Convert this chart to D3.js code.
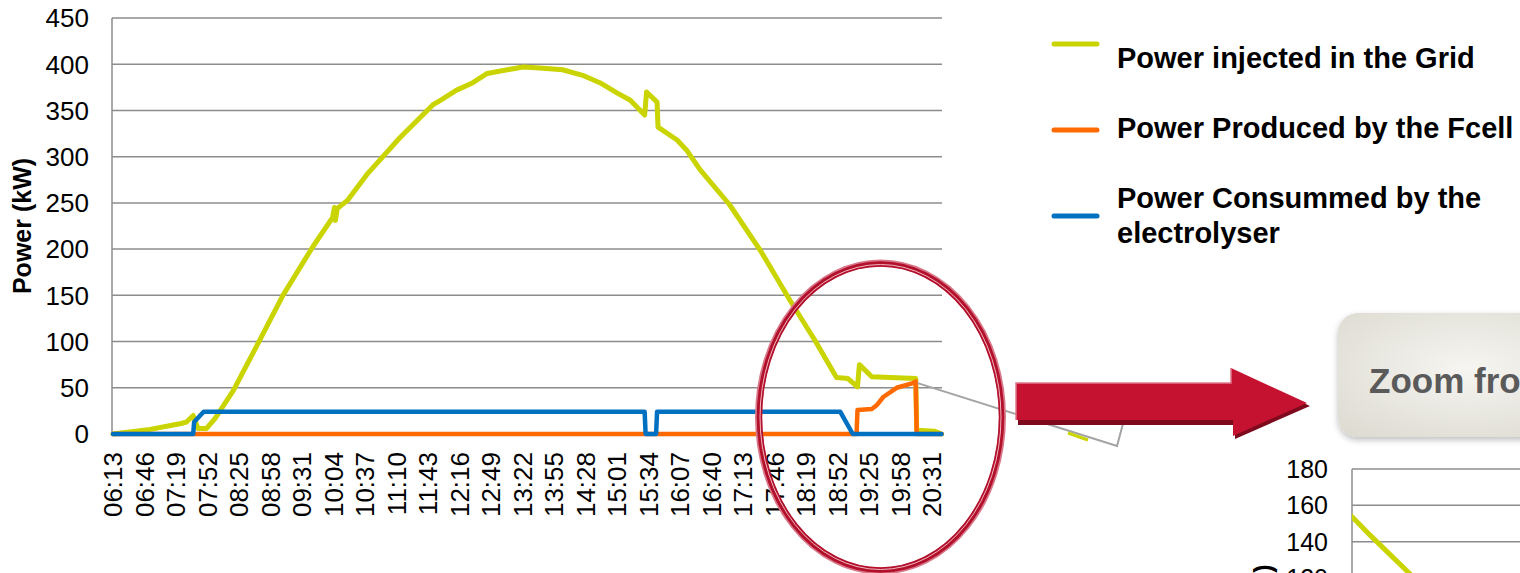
<!DOCTYPE html>
<html>
<head>
<meta charset="utf-8">
<script src="https://cdn.jsdelivr.net/npm/d3@7/dist/d3.min.js"></script>
<style>
  body { margin: 0; background: #fff; }
  svg { display: block; font-family: "Liberation Sans", Arial, sans-serif; }
</style>
</head>
<body>
<div id="chart"></div>
<script>
// 1: DATA
const timeLabels = ["06:13","06:46","07:19","07:52","08:25","08:58","09:31","10:04","10:37",
  "11:10","11:43","12:16","12:49","13:22","13:55","14:28","15:01","15:34","16:07","16:40",
  "17:13","17:46","18:19","18:52","19:25","19:58","20:31"];
const powerTicks = [0, 50, 100, 150, 200, 250, 300, 350, 400, 450];
const zoomTicks = [0, 20, 40, 60, 80, 100, 120, 140, 160, 180];

const gridPower = [
  ["06:13",0],["06:28",2],["06:52",5],["07:23",11],["07:30",13],["07:37",20],["07:42",6],
  ["07:51",6],["08:00",17],["08:19",47],["08:47",102],["09:11",150],["09:42",202],
  ["10:03",234],["10:05",245],["10:06",231],["10:08",244],["10:19",253],["10:40",282],
  ["11:14",321],["11:48",356],["11:56",361],["12:13",372],["12:30",380],["12:45",390],
  ["13:06",394],["13:23",397],["13:40",396],["14:04",394],["14:25",388],["14:43",380],
  ["15:01",369],["15:15",361],["15:30",345],["15:32",370],["15:43",359],["15:44",332],
  ["16:04",318],["16:14",307],["16:28",286],["16:59",248],["17:31",199],["18:02",145],
  ["18:28",102],["18:51",61],["19:03",60],["19:13",51],["19:15",75],["19:28",62],
  ["20:14",60],["20:15",4],["20:34",3],["20:41",0]
];
const fcellPower = [
  ["06:13",0],["19:12",0],["19:13",26],["19:28",27],["19:33",31],["19:40",40],
  ["19:54",50],["20:11",55],["20:14",57],["20:15",0],["20:41",0]
];
const electrolyserPower = [
  ["06:13",0],["07:37",0],["07:38",13],["07:48",24],["15:30",24],["15:31",0],
  ["15:42",0],["15:43",24],["18:55",24],["19:08",0],["20:41",0]
];

const series = [
  { name: "Power injected in the Grid", data: gridPower, color: "#cad400", w: 5 },
  { name: "Power Produced by the Fcell", data: fcellPower, color: "#ff6a00", w: 4.5 },
  { name: "Power Consummed by the|electrolyser", data: electrolyserPower, color: "#0070c0", w: 4.5 }
];

const toMin = s => { const [h, m] = s.split(":").map(Number); return h * 60 + m; };

// 2: SVG
const W = 1520, H = 573;
const svg = d3.select("#chart").append("svg").attr("width", W).attr("height", H);
const defs = svg.append("defs");

// 3: MAIN CHART
const x = d3.scaleLinear().domain([toMin("06:13"), toMin("20:41")]).range([113, 941.5]);
const y = d3.scaleLinear().domain([0, 450]).range([434, 18]);
const plotLeft = 112, plotRight = 942;

svg.append("g").selectAll("line").data(powerTicks).join("line")
  .attr("x1", plotLeft).attr("x2", plotRight)
  .attr("y1", d => y(d)).attr("y2", d => y(d))
  .attr("stroke", "#8c8c8c").attr("stroke-width", 1.5);
svg.append("line").attr("x1", plotLeft).attr("x2", plotLeft)
  .attr("y1", y(450)).attr("y2", y(0)).attr("stroke", "#8c8c8c").attr("stroke-width", 1.5);

svg.append("g").selectAll("text").data(powerTicks).join("text")
  .attr("x", 89).attr("y", d => y(d)).attr("dy", "0.36em")
  .attr("text-anchor", "end").style("font-size", "26px").text(d => d);

svg.append("g").selectAll("text").data(timeLabels).join("text")
  .attr("transform", d => `translate(${x(toMin(d))},452) rotate(-90)`)
  .attr("dy", "0.36em").attr("text-anchor", "end")
  .style("font-size", "26px").text(d => d);

svg.append("text")
  .attr("transform", `translate(22,${(y(0) + y(450)) / 2}) rotate(-90)`)
  .attr("dy", "0.36em").attr("text-anchor", "middle")
  .style("font-size", "25px").style("font-weight", "bold").text("Power (kW)");

const line = d3.line().x(d => x(toMin(d[0]))).y(d => y(d[1]));
series.forEach(s => {
  svg.append("path").datum(s.data)
    .attr("fill", "none").attr("stroke", s.color).attr("stroke-width", s.w)
    .attr("stroke-linejoin", "round").attr("stroke-linecap", "round")
    .attr("d", line);
});

// 4: LEGEND
const legendY = [44, 130, 216];
const legendTextY = [[68], [138], [208, 243]];
const legend = svg.append("g");
series.forEach((s, i) => {
  legend.append("line")
    .attr("x1", 1054).attr("x2", 1097).attr("y1", legendY[i]).attr("y2", legendY[i])
    .attr("stroke", s.color).attr("stroke-width", 5).attr("stroke-linecap", "round");
  s.name.split("|").forEach((t, j) => {
    legend.append("text").attr("x", 1117).attr("y", legendTextY[i][j])
      .style("font-size", "29px").style("font-weight", "bold").text(t);
  });
});

// 5: CALLOUT LINES, ELLIPSE, ARROW
svg.append("polyline")
  .attr("points", `${x(toMin("20:16"))},${y(55)} 1117,446 1124,420`)
  .attr("fill", "none").attr("stroke", "#a3a3a3").attr("stroke-width", 2);
svg.append("line").attr("x1", 1068).attr("y1", 433).attr("x2", 1088).attr("y2", 440)
  .attr("stroke", "#cad400").attr("stroke-width", 3);

const ell = { cx: 880.5, cy: 417, rx: 121, ry: 153 };
svg.append("ellipse").attr("cx", ell.cx).attr("cy", ell.cy).attr("rx", ell.rx + 1).attr("ry", ell.ry + 1)
  .attr("fill", "none").attr("stroke", "#d9788a").attr("stroke-width", 7);
svg.append("ellipse").attr("cx", ell.cx).attr("cy", ell.cy).attr("rx", ell.rx).attr("ry", ell.ry)
  .attr("fill", "none").attr("stroke", "#b3102b").attr("stroke-width", 5.5);
svg.append("ellipse").attr("cx", ell.cx).attr("cy", ell.cy).attr("rx", ell.rx - 0.5).attr("ry", ell.ry - 0.5)
  .attr("fill", "none").attr("stroke", "#f0b8c2").attr("stroke-width", 1);

svg.append("polygon")
  .attr("points", "1018,387 1234,387 1234,371 1310,406 1235,439 1235,425 1018,425")
  .attr("fill", "#7e0a1d");
svg.append("polygon")
  .attr("points", "1016,383 1231,383 1231,368 1307,403 1233,436 1233,420 1016,420")
  .attr("fill", "#c41230");
svg.append("polyline")
  .attr("points", "1016,420 1016,383 1231,383 1231,368")
  .attr("fill", "none").attr("stroke", "#e07a8c").attr("stroke-width", 1.5);

// 6: "ZOOM FROM" BOX
const grad = defs.append("radialGradient").attr("id", "boxGrad")
  .attr("cx", "0.5").attr("cy", "0.45").attr("r", "0.8");
grad.append("stop").attr("offset", "0%").attr("stop-color", "#f6f5f1");
grad.append("stop").attr("offset", "100%").attr("stop-color", "#d9d7cd");
const shadow = defs.append("filter").attr("id", "boxShadow").attr("x", "-10%").attr("y", "-10%")
  .attr("width", "130%").attr("height", "140%");
shadow.append("feDropShadow").attr("dx", 0).attr("dy", 3).attr("stdDeviation", 3)
  .attr("flood-color", "#000").attr("flood-opacity", 0.25);
svg.append("rect").attr("x", 1338).attr("y", 313).attr("width", 260).attr("height", 124)
  .attr("rx", 20).attr("fill", "url(#boxGrad)").attr("filter", "url(#boxShadow)");
svg.append("text").attr("x", 1369).attr("y", 393)
  .style("font-size", "35px").style("font-weight", "bold").attr("fill", "#5a5a5a")
  .text("Zoom from");

// 7: ZOOMED CHART (mostly below the frame)
const zx = d3.scaleLinear().domain([toMin("17:57"), toMin("20:41")]).range([1352, 1859]);
const zy = d3.scaleLinear().domain([0, 180]).range([796, 469]);
defs.append("clipPath").attr("id", "zoomClip").append("rect")
  .attr("x", 1352).attr("y", 469).attr("width", 507).attr("height", 327);

svg.append("g").selectAll("line").data(zoomTicks).join("line")
  .attr("x1", 1352).attr("x2", 1859)
  .attr("y1", d => zy(d)).attr("y2", d => zy(d))
  .attr("stroke", "#8c8c8c").attr("stroke-width", 1.5);
svg.append("line").attr("x1", 1352).attr("x2", 1352)
  .attr("y1", zy(180)).attr("y2", zy(0)).attr("stroke", "#8c8c8c").attr("stroke-width", 1.5);
svg.append("g").selectAll("text").data(zoomTicks).join("text")
  .attr("x", 1328).attr("y", d => zy(d)).attr("dy", "0.36em")
  .attr("text-anchor", "end").style("font-size", "25px").text(d => d);
svg.append("text")
  .attr("transform", `translate(1263,${(zy(0) + zy(180)) / 2}) rotate(-90)`)
  .attr("dy", "0.36em").attr("text-anchor", "middle")
  .style("font-size", "25px").style("font-weight", "bold").text("Power (kW)");

const zline = d3.line().x(d => zx(toMin(d[0]))).y(d => zy(d[1]));
const zg = svg.append("g").attr("clip-path", "url(#zoomClip)");
series.forEach(s => {
  zg.append("path").datum(s.data)
    .attr("fill", "none").attr("stroke", s.color).attr("stroke-width", s.w)
    .attr("stroke-linejoin", "round").attr("d", zline);
});
</script>
</body>
</html>
